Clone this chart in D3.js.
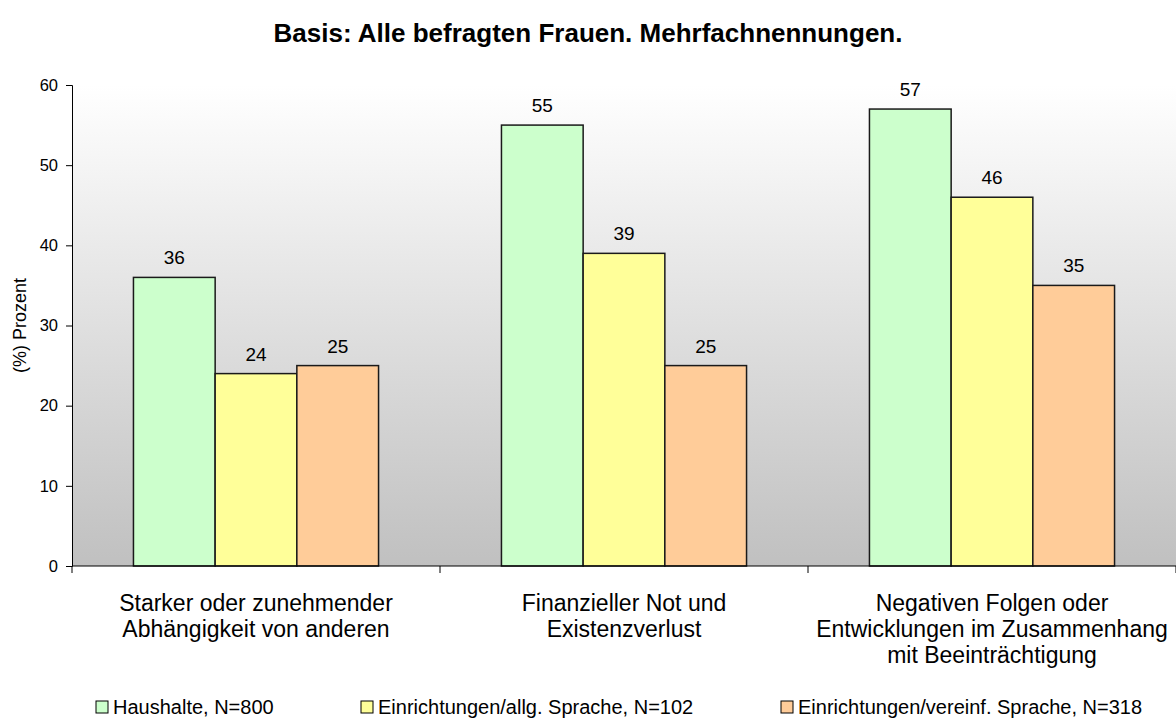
<!DOCTYPE html>
<html>
<head>
<meta charset="utf-8">
<script src="https://cdn.jsdelivr.net/npm/d3@7"></script>
<style>
  body { margin: 0; background: #fff; }
  svg { display: block; font-family: Arial, "Liberation Sans", sans-serif; }
</style>
</head>
<body>
<div id="chart"></div>
<script>
var categories = [
    ["Starker oder zunehmender", "Abhängigkeit von anderen"],
    ["Finanzieller Not und", "Existenzverlust"],
    ["Negativen Folgen oder", "Entwicklungen im Zusammenhang", "mit Beeinträchtigung"]
]
var series = ["Haushalte, N=800", "Einrichtungen/allg. Sprache, N=102", "Einrichtungen/vereinf. Sprache, N=318"]
var haushalte = [36, 55, 57]
var allgSprache = [24, 39, 46]
var vereinfSprache = [25, 25, 35]
var yTicks = [0, 10, 20, 30, 40, 50, 60]

var values = [haushalte, allgSprache, vereinfSprache]
var fills = ["#ccffcc", "#ffff99", "#ffcc99"]

var width = 1176, height = 720
var margin = { left: 72, right: 0, top: 85, bottom: 154 }

var svg = d3.select("#chart").append("svg")
    .attr("width", width)
    .attr("height", height)

var defs = svg.append("defs")
var grad = defs.append("linearGradient")
    .attr("id", "bg")
    .attr("x1", 0).attr("y1", 0).attr("x2", 0).attr("y2", 1)
grad.append("stop").attr("offset", "0%").attr("stop-color", "#ffffff")
grad.append("stop").attr("offset", "100%").attr("stop-color", "#c0c0c0")

var x = d3.scaleBand()
    .domain(d3.range(categories.length))
    .range([margin.left, width - margin.right])

var y = d3.scaleLinear()
    .domain([0, 60])
    .range([height - margin.bottom, margin.top])

var barW = x.bandwidth() * 0.222
var xs = d3.scaleBand()
    .domain(d3.range(series.length))
    .range([0, barW * 3])

// plot background
svg.append("rect")
    .attr("x", margin.left)
    .attr("y", y(60))
    .attr("width", width - margin.right - margin.left)
    .attr("height", y(0) - y(60))
    .attr("fill", "url(#bg)")

// title
svg.append("text")
    .attr("x", 588)
    .attr("y", 42)
    .attr("text-anchor", "middle")
    .attr("font-size", "26px")
    .attr("font-weight", "bold")
    .text("Basis: Alle befragten Frauen. Mehrfachnennungen.")

// bars
series.forEach(function(s, si){
    var g = svg.append("g")
    g.selectAll("rect")
        .data(values[si])
        .enter()
        .append("rect")
        .attr("x", function(d, i){
            return x(i) + (x.bandwidth() - barW * 3) / 2 + xs(si)
        })
        .attr("y", function(d){ return y(d) })
        .attr("width", xs.bandwidth())
        .attr("height", function(d){ return y(0) - y(d) })
        .attr("fill", fills[si])
        .attr("stroke", "#1a1a1a")
        .attr("stroke-width", 1.5)

    g.selectAll("text")
        .data(values[si])
        .enter()
        .append("text")
        .attr("x", function(d, i){
            return x(i) + (x.bandwidth() - barW * 3) / 2 + xs(si) + xs.bandwidth() / 2
        })
        .attr("y", function(d){ return y(d) - 13 })
        .attr("text-anchor", "middle")
        .attr("font-size", "19px")
        .attr("fill", "#000")
        .text(function(d){ return d })
})

// y axis
var yAxis = svg.append("g")
    .attr("transform", "translate(" + margin.left + ",0)")
    .call(d3.axisLeft(y).tickValues(yTicks).tickSize(6).tickPadding(8))
yAxis.select(".domain").attr("stroke", "#000").attr("stroke-width", 1)
yAxis.selectAll("text").attr("font-size", "16.5px").attr("fill", "#000").attr("font-family", "Arial, 'Liberation Sans', sans-serif")

// x axis line and category ticks
svg.append("line")
    .attr("x1", margin.left).attr("x2", width - margin.right)
    .attr("y1", y(0)).attr("y2", y(0))
    .attr("stroke", "#000")
svg.selectAll(".cat-tick")
    .data(d3.range(categories.length + 1))
    .enter()
    .append("line")
    .attr("class", "cat-tick")
    .attr("x1", function(d){ return margin.left + d * x.bandwidth() })
    .attr("x2", function(d){ return margin.left + d * x.bandwidth() })
    .attr("y1", y(0))
    .attr("y2", y(0) + 7)
    .attr("stroke", "#000")

// category labels
var catLabels = svg.selectAll(".cat")
    .data(categories)
    .enter()
    .append("text")
    .attr("class", "cat")
    .attr("text-anchor", "middle")
    .attr("font-size", "23px")
    .attr("fill", "#000")
catLabels.each(function(lines, i){
    d3.select(this).selectAll("tspan")
        .data(lines)
        .enter()
        .append("tspan")
        .attr("x", x(i) + x.bandwidth() / 2)
        .attr("y", function(d, j){ return 611 + j * 26 })
        .text(function(d){ return d })
})

// y label
svg.append("text")
    .attr("transform", "translate(26," + (y(30)) + ") rotate(-90)")
    .attr("text-anchor", "middle")
    .attr("font-size", "18px")
    .text("(%) Prozent")

// legend
var legendX = [96, 361, 781]
var legend = svg.selectAll(".legend")
    .data(series)
    .enter()
    .append("g")
    .attr("class", "legend")
    .attr("transform", function(d, i){ return "translate(" + legendX[i] + ",701)" })
legend.append("rect")
    .attr("width", 12)
    .attr("height", 12)
    .attr("fill", function(d, i){ return fills[i] })
    .attr("stroke", "#000")
legend.append("text")
    .attr("x", 17)
    .attr("y", 13)
    .attr("font-size", "20px")
    .text(function(d){ return d })
</script>
</body>
</html>
